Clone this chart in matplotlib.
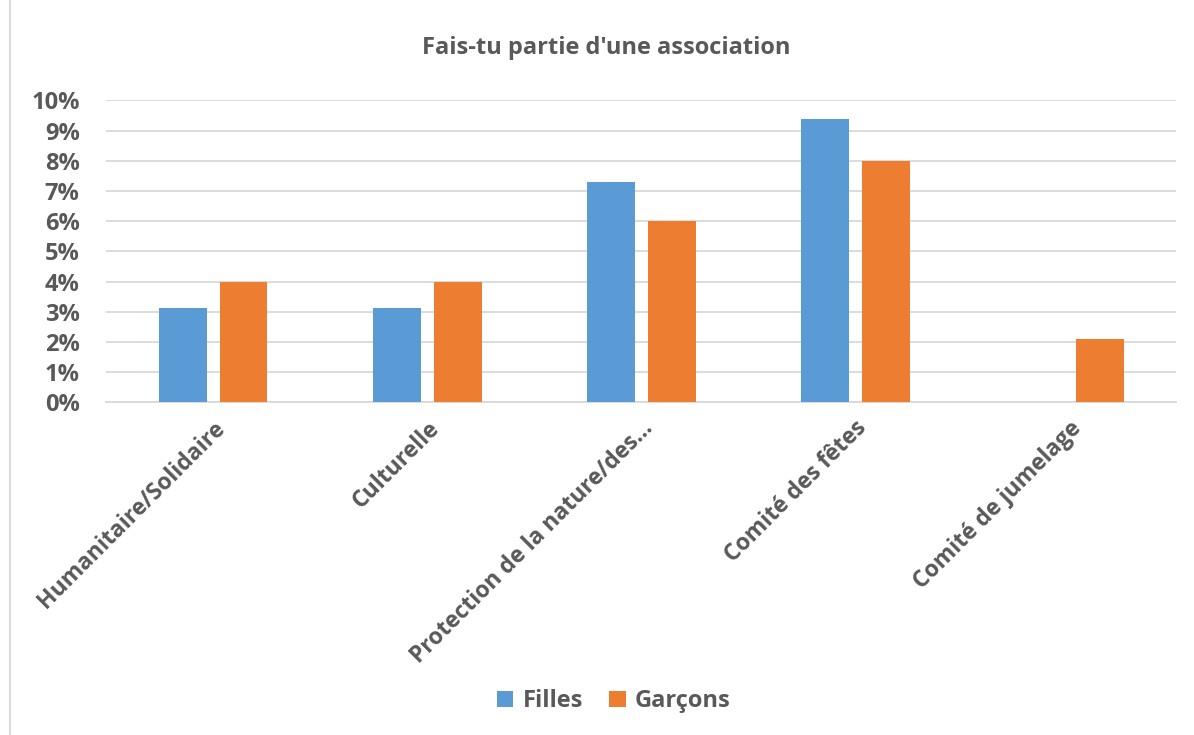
import numpy as np
import matplotlib.pyplot as plt
from matplotlib.patches import Rectangle

# données
categories = ['Humanitaire/Solidaire', 'Culturelle', 'Protection de la nature/des…',
              'Comité des fêtes', 'Comité de jumelage']
filles = [3.12, 3.12, 7.3, 9.38, 0]
garcons = [4.0, 4.0, 6.0, 8.0, 2.09]
yticks = np.arange(0, 11, 1)

gris = '#595959'
plt.rcParams['font.family'] = ['Open Sans', 'DejaVu Sans']

fig = plt.figure(figsize=(11.94, 7.35), dpi=100)
ax = fig.add_axes([0.0888, 0.4526, 0.985 - 0.0888, 0.8635 - 0.4526])

x = np.arange(len(categories))
w = 0.224
d = 0.1425
ax.bar(x - d, filles, w, color='#5B9BD5', label='Filles', zorder=3)
ax.bar(x + d, garcons, w, color='#ED7D31', label='Garçons', zorder=3)

ax.set_xlim(-0.5, len(categories) - 0.5)
ax.set_ylim(0, 10)
ax.set_yticks(yticks)
ax.set_yticklabels([f'{v}%' for v in yticks], fontsize=17, fontweight='bold', color=gris)
ax.yaxis.grid(True, color='#D9D9D9', linewidth=1.3, zorder=0)
ax.tick_params(axis='both', length=0)
ax.tick_params(axis='y', pad=19)
for s in ['top', 'right', 'left']:
    ax.spines[s].set_visible(False)
ax.spines['bottom'].set_color('#D9D9D9')
ax.spines['bottom'].set_linewidth(1.3)

ax.set_xticks(x)
ax.set_xticklabels(categories, rotation=45, ha='right', va='top', rotation_mode='anchor',
                   fontsize=16.5, fontweight='bold', color=gris)
ax.tick_params(axis='x', pad=10)

fig.text(0.508, 0.935, "Fais-tu partie d'une association", ha='center', va='center',
         fontsize=17, fontweight='bold', color=gris)

fig.legend(loc='center', bbox_to_anchor=(0.514, 0.046), ncol=2, frameon=False,
           handlelength=0.7, handleheight=0.7, handletextpad=0.4, columnspacing=1.1,
           prop={'size': 17, 'weight': 'bold'}, labelcolor=gris)

# cadre du graphique
fig.patches.append(Rectangle((10 / 1194, -0.01), 1.0, 1.02, transform=fig.transFigure,
                             fill=False, edgecolor='#D9D9D9', linewidth=1.3))

fig.savefig('out.png', dpi=100)
